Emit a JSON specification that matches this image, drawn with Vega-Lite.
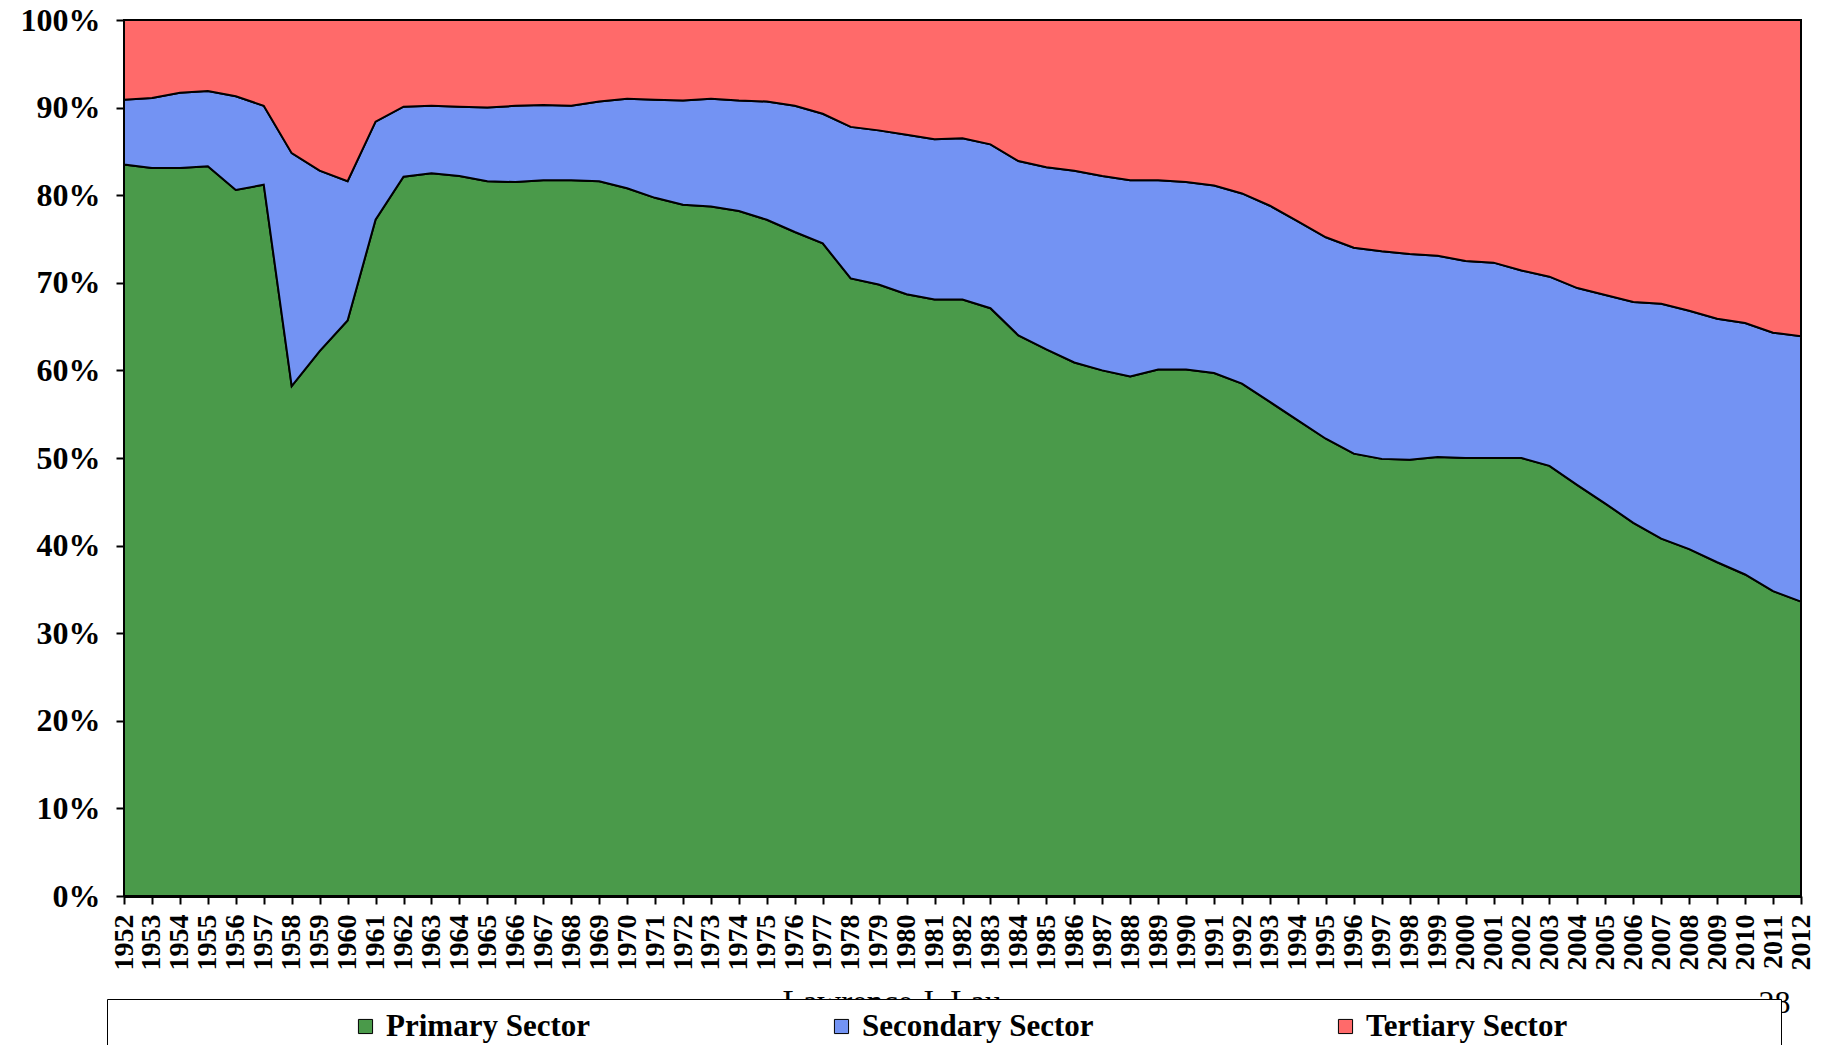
{
  "$schema": "https://vega.github.io/schema/vega-lite/v6.json",
  "width": 1677,
  "height": 876,
  "autosize": {"type": "none"},
  "padding": {"left": 124, "top": 20, "right": 22, "bottom": 149},
  "background": "white",
  "config": {"font": "Liberation Serif", "view": {"stroke": "black", "strokeWidth": 2}},
  "data": {"values": [
    {"year":1952,"Primary Sector":83.5,"Secondary Sector":7.4,"Tertiary Sector":9.1},
    {"year":1953,"Primary Sector":83.1,"Secondary Sector":8.0,"Tertiary Sector":8.9},
    {"year":1954,"Primary Sector":83.1,"Secondary Sector":8.6,"Tertiary Sector":8.3},
    {"year":1955,"Primary Sector":83.3,"Secondary Sector":8.6,"Tertiary Sector":8.1},
    {"year":1956,"Primary Sector":80.6,"Secondary Sector":10.7,"Tertiary Sector":8.7},
    {"year":1957,"Primary Sector":81.2,"Secondary Sector":9.0,"Tertiary Sector":9.8},
    {"year":1958,"Primary Sector":58.2,"Secondary Sector":26.6,"Tertiary Sector":15.2},
    {"year":1959,"Primary Sector":62.2,"Secondary Sector":20.6,"Tertiary Sector":17.2},
    {"year":1960,"Primary Sector":65.7,"Secondary Sector":15.9,"Tertiary Sector":18.4},
    {"year":1961,"Primary Sector":77.2,"Secondary Sector":11.2,"Tertiary Sector":11.6},
    {"year":1962,"Primary Sector":82.1,"Secondary Sector":8.0,"Tertiary Sector":9.9},
    {"year":1963,"Primary Sector":82.5,"Secondary Sector":7.7,"Tertiary Sector":9.8},
    {"year":1964,"Primary Sector":82.2,"Secondary Sector":7.9,"Tertiary Sector":9.9},
    {"year":1965,"Primary Sector":81.6,"Secondary Sector":8.4,"Tertiary Sector":10.0},
    {"year":1966,"Primary Sector":81.5,"Secondary Sector":8.7,"Tertiary Sector":9.8},
    {"year":1967,"Primary Sector":81.7,"Secondary Sector":8.6,"Tertiary Sector":9.7},
    {"year":1968,"Primary Sector":81.7,"Secondary Sector":8.5,"Tertiary Sector":9.8},
    {"year":1969,"Primary Sector":81.6,"Secondary Sector":9.1,"Tertiary Sector":9.3},
    {"year":1970,"Primary Sector":80.8,"Secondary Sector":10.2,"Tertiary Sector":9.0},
    {"year":1971,"Primary Sector":79.7,"Secondary Sector":11.2,"Tertiary Sector":9.1},
    {"year":1972,"Primary Sector":78.9,"Secondary Sector":11.9,"Tertiary Sector":9.2},
    {"year":1973,"Primary Sector":78.7,"Secondary Sector":12.3,"Tertiary Sector":9.0},
    {"year":1974,"Primary Sector":78.2,"Secondary Sector":12.6,"Tertiary Sector":9.2},
    {"year":1975,"Primary Sector":77.2,"Secondary Sector":13.5,"Tertiary Sector":9.3},
    {"year":1976,"Primary Sector":75.8,"Secondary Sector":14.4,"Tertiary Sector":9.8},
    {"year":1977,"Primary Sector":74.5,"Secondary Sector":14.8,"Tertiary Sector":10.7},
    {"year":1978,"Primary Sector":70.5,"Secondary Sector":17.3,"Tertiary Sector":12.2},
    {"year":1979,"Primary Sector":69.8,"Secondary Sector":17.6,"Tertiary Sector":12.6},
    {"year":1980,"Primary Sector":68.7,"Secondary Sector":18.2,"Tertiary Sector":13.1},
    {"year":1981,"Primary Sector":68.1,"Secondary Sector":18.3,"Tertiary Sector":13.6},
    {"year":1982,"Primary Sector":68.1,"Secondary Sector":18.4,"Tertiary Sector":13.5},
    {"year":1983,"Primary Sector":67.1,"Secondary Sector":18.7,"Tertiary Sector":14.2},
    {"year":1984,"Primary Sector":64.0,"Secondary Sector":19.9,"Tertiary Sector":16.1},
    {"year":1985,"Primary Sector":62.4,"Secondary Sector":20.8,"Tertiary Sector":16.8},
    {"year":1986,"Primary Sector":60.9,"Secondary Sector":21.9,"Tertiary Sector":17.2},
    {"year":1987,"Primary Sector":60.0,"Secondary Sector":22.2,"Tertiary Sector":17.8},
    {"year":1988,"Primary Sector":59.3,"Secondary Sector":22.4,"Tertiary Sector":18.3},
    {"year":1989,"Primary Sector":60.1,"Secondary Sector":21.6,"Tertiary Sector":18.3},
    {"year":1990,"Primary Sector":60.1,"Secondary Sector":21.4,"Tertiary Sector":18.5},
    {"year":1991,"Primary Sector":59.7,"Secondary Sector":21.4,"Tertiary Sector":18.9},
    {"year":1992,"Primary Sector":58.5,"Secondary Sector":21.7,"Tertiary Sector":19.8},
    {"year":1993,"Primary Sector":56.4,"Secondary Sector":22.4,"Tertiary Sector":21.2},
    {"year":1994,"Primary Sector":54.3,"Secondary Sector":22.7,"Tertiary Sector":23.0},
    {"year":1995,"Primary Sector":52.2,"Secondary Sector":23.0,"Tertiary Sector":24.8},
    {"year":1996,"Primary Sector":50.5,"Secondary Sector":23.5,"Tertiary Sector":26.0},
    {"year":1997,"Primary Sector":49.9,"Secondary Sector":23.7,"Tertiary Sector":26.4},
    {"year":1998,"Primary Sector":49.8,"Secondary Sector":23.5,"Tertiary Sector":26.7},
    {"year":1999,"Primary Sector":50.1,"Secondary Sector":23.0,"Tertiary Sector":26.9},
    {"year":2000,"Primary Sector":50.0,"Secondary Sector":22.5,"Tertiary Sector":27.5},
    {"year":2001,"Primary Sector":50.0,"Secondary Sector":22.3,"Tertiary Sector":27.7},
    {"year":2002,"Primary Sector":50.0,"Secondary Sector":21.4,"Tertiary Sector":28.6},
    {"year":2003,"Primary Sector":49.1,"Secondary Sector":21.6,"Tertiary Sector":29.3},
    {"year":2004,"Primary Sector":46.9,"Secondary Sector":22.5,"Tertiary Sector":30.6},
    {"year":2005,"Primary Sector":44.8,"Secondary Sector":23.8,"Tertiary Sector":31.4},
    {"year":2006,"Primary Sector":42.6,"Secondary Sector":25.2,"Tertiary Sector":32.2},
    {"year":2007,"Primary Sector":40.8,"Secondary Sector":26.8,"Tertiary Sector":32.4},
    {"year":2008,"Primary Sector":39.6,"Secondary Sector":27.2,"Tertiary Sector":33.2},
    {"year":2009,"Primary Sector":38.1,"Secondary Sector":27.8,"Tertiary Sector":34.1},
    {"year":2010,"Primary Sector":36.7,"Secondary Sector":28.7,"Tertiary Sector":34.6},
    {"year":2011,"Primary Sector":34.8,"Secondary Sector":29.5,"Tertiary Sector":35.7},
    {"year":2012,"Primary Sector":33.6,"Secondary Sector":30.3,"Tertiary Sector":36.1}
  ]},
  "transform": [{"fold": ["Primary Sector", "Secondary Sector", "Tertiary Sector"], "as": ["sector", "share"]}],
  "mark": {"type": "area", "stroke": "black", "strokeWidth": 2, "opacity": 1},
  "encoding": {
    "x": {
      "field": "year", "type": "quantitative",
      "scale": {"domain": [1952, 2012], "nice": false, "zero": false},
      "axis": {
        "values": [1952,1953,1954,1955,1956,1957,1958,1959,1960,1961,1962,1963,1964,1965,1966,1967,1968,1969,1970,1971,1972,1973,1974,1975,1976,1977,1978,1979,1980,1981,1982,1983,1984,1985,1986,1987,1988,1989,1990,1991,1992,1993,1994,1995,1996,1997,1998,1999,2000,2001,2002,2003,2004,2005,2006,2007,2008,2009,2010,2011,2012],
        "format": "d",
        "labelAngle": 270,
        "labelFont": "Liberation Serif", "labelFontWeight": "bold", "labelFontSize": 28, "labelColor": "black",
        "labelPadding": 10, "labelOverlap": false, "labelBound": false, "labelFlush": false,
        "tickSize": 8, "tickColor": "black", "tickWidth": 2,
        "domainColor": "black", "domainWidth": 3, "grid": false,
        "title": "Lawrence J. Lau", "titleFont": "Liberation Serif", "titleFontWeight": "normal", "titleFontSize": 33, "titleColor": "black",
        "titleX": 658, "titleY": 116, "titleAlign": "left", "titleBaseline": "alphabetic", "titleAngle": 0
      }
    },
    "y": {
      "field": "share", "type": "quantitative", "stack": "normalize",
      "scale": {"domain": [0, 1]},
      "axis": {
        "values": [0, 0.1, 0.2, 0.3, 0.4, 0.5, 0.6, 0.7, 0.8, 0.9, 1],
        "format": ".0%",
        "labelFont": "Liberation Serif", "labelFontWeight": "bold", "labelFontSize": 32, "labelColor": "black",
        "labelPadding": 16, "labelOverlap": false, "labelBound": false, "labelFlush": false,
        "tickSize": 8, "tickColor": "black", "tickWidth": 2,
        "domainColor": "black", "domainWidth": 3, "grid": false,
        "title": "28", "titleFont": "Liberation Serif", "titleFontWeight": "normal", "titleFontSize": 32, "titleColor": "black",
        "titleX": 1634, "titleY": 992, "titleAlign": "left", "titleBaseline": "alphabetic", "titleAngle": 0
      }
    },
    "color": {
      "field": "sector", "type": "nominal",
      "scale": {"domain": ["Primary Sector", "Secondary Sector", "Tertiary Sector"], "range": ["#4a9a4a", "#7393f3", "#ff6a6a"]},
      "legend": {
        "orient": "none", "legendX": -17, "legendY": 979,
        "direction": "horizontal", "columns": 3, "gridAlign": "none", "columnPadding": 236,
        "title": " ", "titleOrient": "left", "titleFontSize": 1, "titleColor": "white", "titlePadding": 231,
        "padding": 12, "fillColor": "white", "strokeColor": "black",
        "symbolType": "square", "symbolSize": 200, "symbolStrokeColor": "black", "symbolStrokeWidth": 1, "symbolOpacity": 1,
        "labelFont": "Liberation Serif", "labelFontWeight": "bold", "labelFontSize": 31, "labelColor": "black",
        "labelOffset": 5, "labelLimit": 1000,
        "labelExpr": "datum.value == 'Tertiary Sector' ? 'Tertiary Sector\u2003\u2003\u2003\u2003\u2003\u2003\u2002\u200b' : datum.label"
      }
    },
    "order": {"field": "sector", "type": "nominal", "sort": "ascending"}
  }
}
